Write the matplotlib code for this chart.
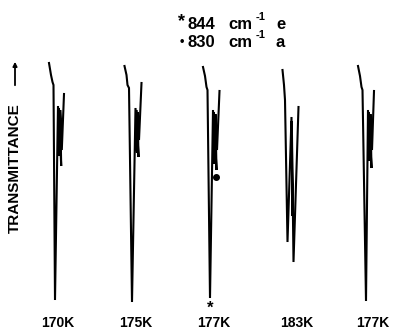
import matplotlib
matplotlib.use('Agg')
import matplotlib.pyplot as plt

# Figure size in pixels (dpi 100)
FIG_W = 394
FIG_H = 336

plt.rcParams['font.family'] = ['Liberation Sans', 'DejaVu Sans']
plt.rcParams['font.weight'] = 'bold'

# Temperatures of the five recorder traces
temperatures = ['170K', '175K', '177K', '183K', '177K']
label_x = [58, 136, 214, 297, 373]

# Pen traces: horizontal pen position and transmittance
trace_x = [
    [49, 51, 52.5, 53.5, 55, 58, 59.5, 58.8, 61.2, 60.2, 61.8, 64],
    [124.5, 126.5, 127.5, 129, 132, 135.5, 137, 136.3, 138.5, 137.6, 139, 141.5],
    [203, 205, 206.5, 207.5, 210, 213, 214.6, 213.8, 216.5, 215.4, 217, 219.5],
    [282.5, 284, 285, 287.5, 291.5, 292.4, 291.8, 293.5, 298.5],
    [358, 360, 361.5, 362.5, 366, 368, 369.6, 368.8, 371.5, 370.4, 372, 374],
]
trace_t = [
    [273, 261, 254, 251, 36, 230, 180, 228, 170, 226, 186, 242],
    [270, 261, 251, 248, 34, 228, 183, 226, 179, 224, 196, 253],
    [269, 260, 249, 246, 38, 226, 172, 224, 166, 222, 186, 245],
    [266, 251, 236, 94, 219, 120, 215, 74, 229],
    [270, 260, 249, 246, 35, 226, 175, 224, 168, 222, 186, 245],
]

# band assignments: 844 cm-1 (e) and 830 cm-1 (a), marked on the 177K trace
band_e = (210, 28)
band_a = (216, 159)
legend_rows = [('844', 'e'), ('830', 'a')]

fig = plt.figure(figsize=(FIG_W / 100, FIG_H / 100), dpi=100)
ax = fig.add_axes([0, 0, 1, 1])
ax.set_xlim(0, FIG_W)
ax.set_ylim(0, FIG_H)
ax.axis('off')

for xs, ts in zip(trace_x, trace_t):
    ax.plot(xs, ts, color='black', lw=1.5, solid_joinstyle='miter')

for x, lab in zip(label_x, temperatures):
    ax.text(x, 13, lab, fontsize=10, ha='center', va='center')

# band markers
ax.plot(band_a[0], band_a[1], 'o', color='black', markersize=4)
ax.text(band_e[0], band_e[1], '*', fontsize=12, ha='center', va='center')

# legend at top
ax.text(182, 314, '*', fontsize=13, ha='center', va='center')
ax.text(182, 294, '\u2022', fontsize=9, ha='center', va='center')
for yy, (num, letter) in zip([307, 289], legend_rows):
    ax.text(188, yy, num, fontsize=12, ha='left', va='baseline')
    ax.text(228, yy, 'cm', fontsize=12, ha='left', va='baseline')
    ax.text(256, yy + 9, '-1', fontsize=8, ha='left', va='baseline')
    ax.text(276, yy, letter, fontsize=12, ha='left', va='baseline')

# y axis label with arrow
ax.text(15, 168, 'TRANSMITTANCE', fontsize=11, rotation=90,
        ha='center', va='center')
ax.annotate('', xy=(15, 277), xytext=(15, 248),
            arrowprops=dict(arrowstyle='-|>', color='black', lw=1.3,
                            mutation_scale=6))

fig.savefig('out.png', dpi=100)
